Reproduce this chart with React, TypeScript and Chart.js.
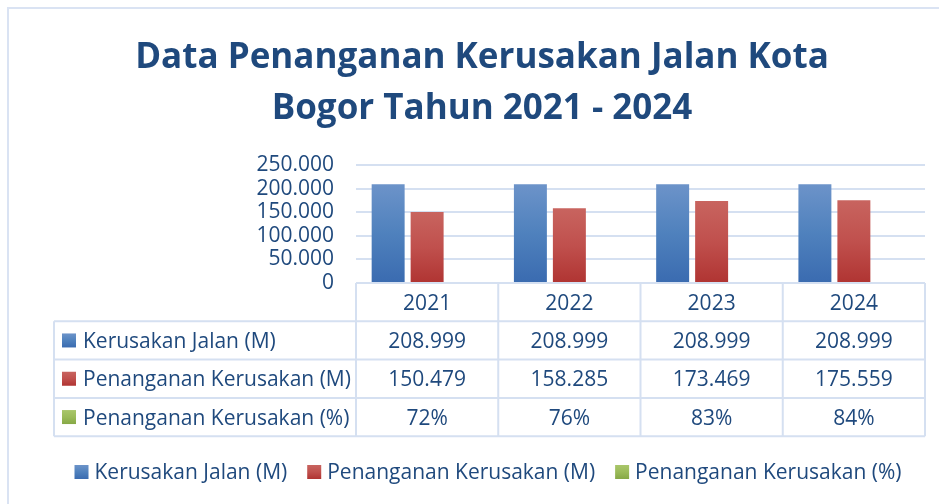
import React, { useEffect, useRef } from 'react';
import { Chart, registerables } from 'chart.js';

Chart.register(...registerables);

const categories = ['2021', '2022', '2023', '2024'];
const kerusakanJalan = [208999, 208999, 208999, 208999];
const penangananM = [150479, 158285, 173469, 175559];
const penangananPct = [0.72, 0.76, 0.83, 0.84];
const seriesLabels = ['Kerusakan Jalan (M)', 'Penanganan Kerusakan (M)', 'Penanganan Kerusakan (%)'];
const titleLines = ['Data Penanganan Kerusakan Jalan Kota', 'Bogor Tahun 2021 - 2024'];
const yMin = 0;
const yMax = 250000;
const yStep = 50000;

const TEXT = '#1f497d';
const LINE = '#d5e0f1';
const FONT = '"Open Sans", "Noto Sans", sans-serif';
const gradStops: string[][] = [
  ['#6c93c9', '#4f81bd', '#3a6bb0'],
  ['#c8645f', '#c0504d', '#b03432'],
  ['#a9c66a', '#9bbb59', '#86a846'],
];

const fmtNum = (v: number) => String(Math.round(v)).replace(/\B(?=(\d{3})+(?!\d))/g, '.');
const fmtPct = (v: number) => Math.round(v * 100) + '%';

const grad = (ctx: CanvasRenderingContext2D, top: number, bottom: number, idx: number) => {
  const g = ctx.createLinearGradient(0, top, 0, bottom);
  const s = gradStops[idx];
  g.addColorStop(0, s[0]);
  g.addColorStop(0.5, s[1]);
  g.addColorStop(1, s[2]);
  return g;
};

const barColor = (idx: number) => (c: any) => {
  const chart = c.chart;
  const y = chart.scales && chart.scales.y;
  if (!y || c.parsed === undefined || c.raw === undefined) return gradStops[idx][1];
  const top = y.getPixelForValue(c.raw);
  const bottom = y.getPixelForValue(0);
  if (!isFinite(top) || !isFinite(bottom) || Math.abs(bottom - top) < 1) return gradStops[idx][1];
  return grad(chart.ctx, top, bottom, idx);
};

const square = (ctx: CanvasRenderingContext2D, x: number, cy: number, idx: number) => {
  const size = 14;
  ctx.fillStyle = grad(ctx, cy - size / 2, cy + size / 2, idx);
  ctx.fillRect(x, cy - size / 2, size, size);
};

const framePlugin = {
  id: 'frame',
  beforeDraw(chart: any) {
    const ctx = chart.ctx as CanvasRenderingContext2D;
    ctx.save();
    ctx.fillStyle = '#ffffff';
    ctx.fillRect(0, 0, chart.width, chart.height);
    ctx.strokeStyle = '#dae3f3';
    ctx.lineWidth = 2;
    ctx.strokeRect(8, 8, chart.width + 20, chart.height + 20);
    // title
    ctx.fillStyle = TEXT;
    ctx.font = `bold 35px ${FONT}`;
    ctx.textAlign = 'center';
    ctx.textBaseline = 'alphabetic';
    ctx.fillText(titleLines[0], 482, 68);
    ctx.fillText(titleLines[1], 482, 119);
    ctx.restore();
  },
  afterDraw(chart: any) {
    const ctx = chart.ctx as CanvasRenderingContext2D;
    const ca = chart.chartArea;
    const n = categories.length;
    const cw = ca.width / n;
    const rowH = 38.3;
    const headerTop = ca.bottom;
    const rowsTop = headerTop + rowH;
    const tableLeft = 54;
    const tableBottom = rowsTop + rowH * 3;
    ctx.save();
    ctx.strokeStyle = LINE;
    ctx.lineWidth = 2;
    ctx.beginPath();
    ctx.moveTo(ca.left, headerTop);
    ctx.lineTo(ca.right, headerTop);
    for (let r = 0; r <= 3; r++) {
      const y = rowsTop + r * rowH;
      ctx.moveTo(tableLeft, y);
      ctx.lineTo(ca.right, y);
    }
    ctx.moveTo(tableLeft, rowsTop);
    ctx.lineTo(tableLeft, tableBottom);
    for (let i = 0; i <= n; i++) {
      const x = ca.left + i * cw;
      ctx.moveTo(x, headerTop);
      ctx.lineTo(x, tableBottom);
    }
    ctx.stroke();

    const fs = 21;
    const capOff = fs * 0.357;
    ctx.font = `${fs}px ${FONT}`;
    ctx.fillStyle = TEXT;
    ctx.textBaseline = 'alphabetic';
    ctx.textAlign = 'center';
    categories.forEach((c, i) => {
      ctx.fillText(c, ca.left + (i + 0.5) * cw, headerTop + rowH / 2 + capOff);
    });
    const rows = [kerusakanJalan.map(fmtNum), penangananM.map(fmtNum), penangananPct.map(fmtPct)];
    rows.forEach((vals, r) => {
      const cy = rowsTop + (r + 0.5) * rowH;
      vals.forEach((v, i) => {
        ctx.textAlign = 'center';
        ctx.fillStyle = TEXT;
        ctx.fillText(v, ca.left + (i + 0.5) * cw, cy + capOff);
      });
      square(ctx, 62, cy, r);
      ctx.textAlign = 'left';
      ctx.fillStyle = TEXT;
      ctx.fillText(seriesLabels[r], 83, cy + capOff);
    });

    // bottom legend
    const ly = 472;
    const widths = seriesLabels.map((l) => ctx.measureText(l).width);
    const total = widths.reduce((a, b) => a + b, 0) + seriesLabels.length * 20 + (seriesLabels.length - 1) * 20;
    let x = 488 - total / 2;
    seriesLabels.forEach((l, i) => {
      square(ctx, x, ly, i);
      ctx.textAlign = 'left';
      ctx.fillStyle = TEXT;
      ctx.fillText(l, x + 20, ly + capOff);
      x += 20 + widths[i] + 20;
    });
    ctx.restore();
  },
};

export default function App() {
  const ref = useRef<HTMLCanvasElement | null>(null);
  useEffect(() => {
    if (!ref.current) return;
    const chart = new Chart(ref.current, {
      type: 'bar',
      data: {
        labels: categories,
        datasets: [
          { label: seriesLabels[0], data: kerusakanJalan, backgroundColor: barColor(0) },
          { label: seriesLabels[1], data: penangananM, backgroundColor: barColor(1) },
          { label: seriesLabels[2], data: penangananPct, backgroundColor: barColor(2) },
        ],
      },
      options: {
        animation: false,
        responsive: false,
        categoryPercentage: 0.822,
        barPercentage: 0.846,
        layout: { padding: { left: 0, right: 14, top: 165, bottom: 221 } },
        plugins: {
          legend: { display: false },
          title: { display: false },
          tooltip: { enabled: false },
        },
        scales: {
          x: { display: false, grid: { offset: true } },
          y: {
            min: yMin,
            max: yMax,
            ticks: {
              stepSize: yStep,
              autoSkip: false,
              callback: (v: any) => fmtNum(Number(v)),
              font: { family: FONT, size: 21 },
              color: TEXT,
              padding: 22,
            },
            grid: { color: LINE, lineWidth: 2, drawTicks: false },
            border: { display: false },
            afterFit: (s: any) => {
              s.width = 356;
            },
          },
        },
      } as any,
      plugins: [framePlugin],
    });
    return () => chart.destroy();
  }, []);
  return (
    <div style={{ position: 'absolute', left: 0, top: 0, width: 939, height: 504 }}>
      <canvas ref={ref} width={939} height={504} />
    </div>
  );
}
